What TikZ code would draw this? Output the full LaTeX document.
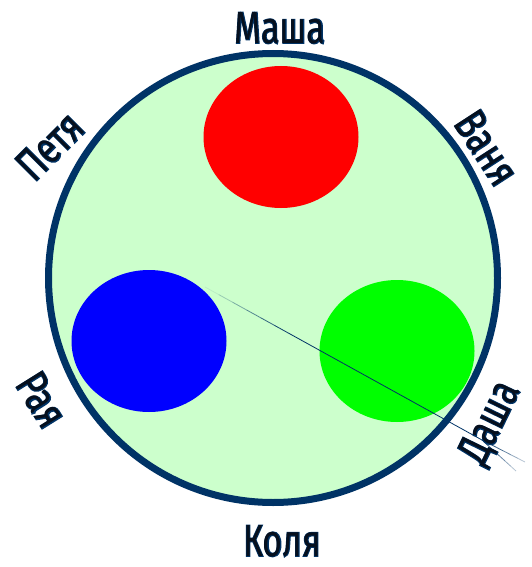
\documentclass[tikz,border=0pt]{standalone}
\usepackage{fontspec}
\setmainfont{Fira Sans}[FakeStretch=0.76]
\newfontfamily\halofont{Fira Sans}[FakeStretch=0.76, FakeBold=3]
\usetikzlibrary{shapes.geometric,calc}
\definecolor{navy}{HTML}{003366}
\definecolor{lgreen}{HTML}{CCFFCC}
\definecolor{textc}{HTML}{06101E}
\begin{document}
\begin{tikzpicture}[x=1pt,y=-1pt,
  blob/.style={ellipse, inner sep=0pt, minimum width=155pt, minimum height=142pt},
  lbl/.style={font=\fontsize{45}{45}\selectfont, text=textc, inner sep=0pt},
  halo/.style={font=\halofont\fontsize{45}{45}\selectfont, text=navy, inner sep=0pt}]
\useasboundingbox (0,0) rectangle (531,567);
\node[circle, draw=navy, line width=7pt, fill=lgreen, minimum size=449pt, inner sep=0pt] (big) at (273,278) {};
\node[blob, fill=red] (red) at (281,137) {};
\node[blob, fill=blue] (blue) at (149,341) {};
\node[blob, fill=green] (green) at (397,351) {};
% thin line, splitting near its end
\coordinate (apex) at (205,287);
\coordinate (split) at (482,440);
\coordinate (e1) at (525,462);
\coordinate (e2) at (516,471);
\foreach \i in {0,...,19}{
  \pgfmathsetmacro{\op}{min(1,(\i+0.5)/6)}
  \pgfmathsetmacro{\a}{\i/20}
  \pgfmathsetmacro{\b}{(\i+1)/20}
  \draw[navy, line width=0.8pt, draw opacity=\op] ($(apex)!\a!(split)$) -- ($(apex)!\b!(split)$);
}
\foreach \i in {0,...,5}{
  \pgfmathsetmacro{\op}{1-\i/7}
  \pgfmathsetmacro{\a}{\i/6}
  \pgfmathsetmacro{\b}{(\i+1)/6}
  \draw[navy, line width=0.8pt, draw opacity=\op] ($(split)!\a!(e1)$) -- ($(split)!\b!(e1)$);
  \draw[navy, line width=0.8pt, draw opacity=\op] ($(split)!\a!(e2)$) -- ($(split)!\b!(e2)$);
}
% labels
\foreach \n/\t/\x/\y/\r in {masha/Маша/280/28/0, vanya/Ваня/487/148/-57, petya/Петя/50/146/45, raya/Рая/42/400/-58, dasha/Даша/491/423/64, kolya/Коля/282/541/0}{
  \node[halo, rotate=\r] (\n h) at (\x,\y) {\t};
  \node[lbl, rotate=\r] (\n) at (\x,\y) {\t};
}
\end{tikzpicture}
\end{document}
